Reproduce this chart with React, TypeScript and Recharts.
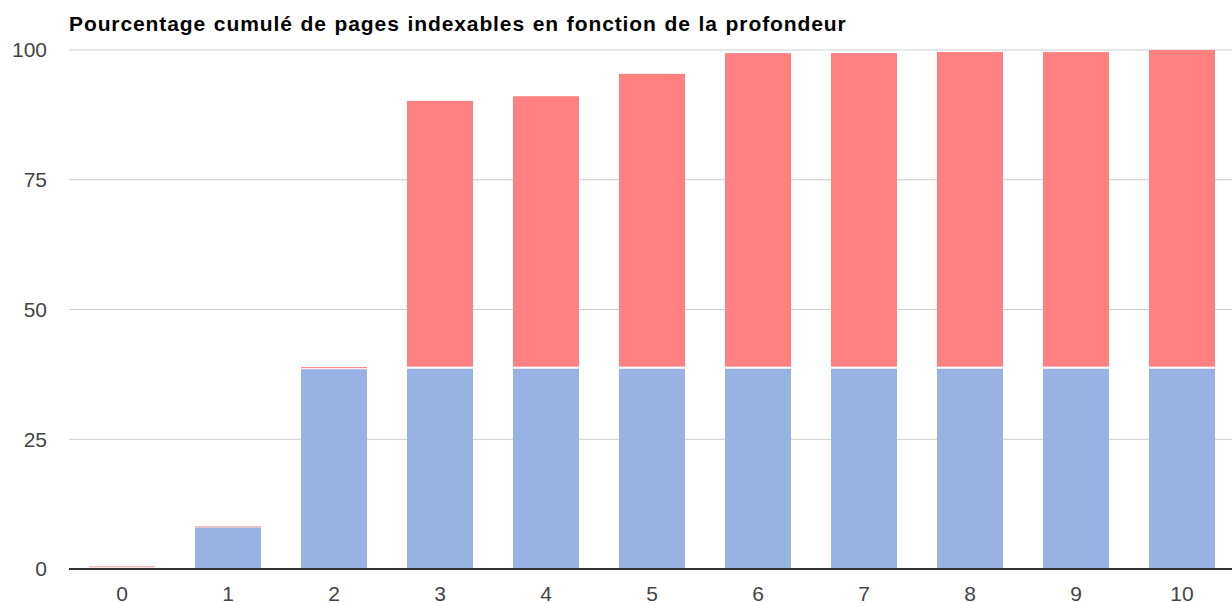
import React from "react";
import { BarChart, Bar, XAxis, YAxis, CartesianGrid } from "recharts";

const categories = ["0", "1", "2", "3", "4", "5", "6", "7", "8", "9", "10"];
const indexable = [0.2, 8.0, 38.5, 38.6, 38.6, 38.6, 38.6, 38.6, 38.6, 38.6, 38.6];
const nonIndexable = [0.3, 0.2, 0.4, 51.6, 52.5, 56.8, 60.8, 60.8, 61.0, 61.0, 61.4];
const yTicks = [0, 25, 50, 75, 100];
const title = "Pourcentage cumulé de pages indexables en fonction de la profondeur";

const data = categories.map((c, i) => ({
  name: c,
  indexable: indexable[i],
  nonIndexable: nonIndexable[i],
}));

const FONT = "'Liberation Sans', Arial, sans-serif";

const RedShape = (props: any) => {
  const { x, y, width, height, fill } = props;
  if (!height || height <= 0) return null;
  const h = height > 4 ? height - 2 : Math.max(height - 1, 0.8);
  return <rect x={x} y={y} width={width} height={h} fill={fill} />;
};

export default function App() {
  return (
    <div
      style={{
        position: "fixed",
        left: 0,
        top: 0,
        width: 1232,
        height: 603,
        overflow: "hidden",
        background: "#fff",
      }}
    >
      <div
        style={{
          position: "absolute",
          left: 69,
          top: 10,
          fontFamily: FONT,
          fontWeight: "bold",
          fontSize: 21,
          letterSpacing: "0.9px",
          wordSpacing: "1px",
          color: "#000",
          whiteSpace: "nowrap",
          lineHeight: "28px",
        }}
      >
        {title}
      </div>
      <BarChart
        width={1240}
        height={603}
        data={data}
        margin={{ top: 50, right: 5, bottom: 0, left: 0 }}
        barSize={66}
      >
        <CartesianGrid vertical={false} stroke="#cccccc" strokeWidth={1} />
        <YAxis
          type="number"
          domain={[0, 100]}
          ticks={yTicks}
          width={69}
          axisLine={false}
          tickLine={false}
          tickSize={0}
          tickMargin={22}
          tick={{ fill: "#444", fontSize: 21, fontFamily: FONT }}
          interval={0}
        />
        <XAxis
          dataKey="name"
          height={34}
          axisLine={{ stroke: "#333", strokeWidth: 2 }}
          tickLine={false}
          tickSize={0}
          tickMargin={17}
          tick={{ fill: "#444", fontSize: 21, fontFamily: FONT }}
          interval={0}
        />
        <Bar dataKey="indexable" stackId="a" fill="#99b2e4" isAnimationActive={false} />
        <Bar
          dataKey="nonIndexable"
          stackId="a"
          fill="#ff8080"
          isAnimationActive={false}
          shape={RedShape}
        />
      </BarChart>
    </div>
  );
}
